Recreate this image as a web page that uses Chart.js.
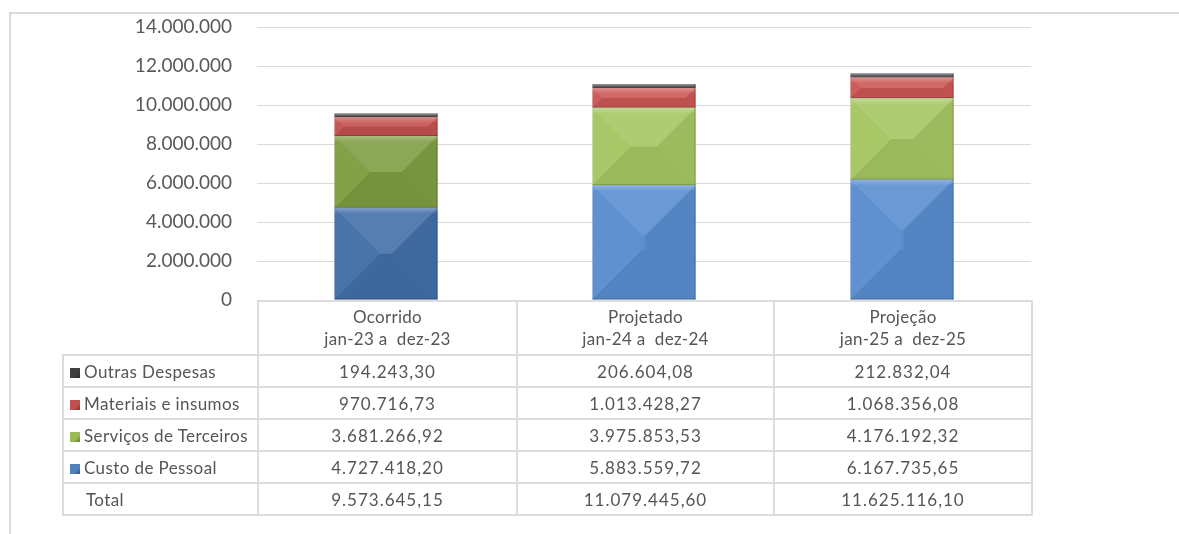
<!DOCTYPE html>
<html><head><meta charset="utf-8">
<script src="https://cdn.jsdelivr.net/npm/chart.js@4/dist/chart.umd.min.js"></script>
<style>
html,body{margin:0;padding:0;background:#fff;width:1179px;height:534px;overflow:hidden;font-family:Lato,"Open Sans",sans-serif;}
#frame{position:absolute;left:9px;top:12px;width:1180px;height:540px;border-left:2px solid #d9d9d9;border-top:2px solid #d9d9d9;}
#c{position:absolute;left:0;top:0;}
#tbl{position:absolute;left:62px;top:300px;border-collapse:collapse;color:#555;font-size:17px;}
#tbl td{border:2px solid #dcdcdc;padding:0;text-align:center;height:30px;white-space:pre;letter-spacing:1px;}
#tbl tr.hd td{height:52px;line-height:22px;letter-spacing:0.3px;}
#tbl td.blank{border:none;}
#tbl td.lab{text-align:left;padding-left:6px;letter-spacing:0.4px;}
.sq{display:inline-block;width:10px;height:10px;margin-right:4px;vertical-align:0px;}
</style></head>
<body>
<div id="frame"></div>
<canvas id="c" width="1179" height="534"></canvas>
<table id="tbl"></table>
<script>
const categories = [["Ocorrido","jan-23 a  dez-23"],["Projetado","jan-24 a  dez-24"],["Projeção","jan-25 a  dez-25"]];
const custoPessoal = [4727418.20, 5883559.72, 6167735.65];
const servicosTerceiros = [3681266.92, 3975853.53, 4176192.32];
const materiaisInsumos = [970716.73, 1013428.27, 1068356.08];
const outrasDespesas = [194243.30, 206604.08, 212832.04];
const totals = [9573645.15, 11079445.60, 11625116.10];
const yTicks = [0, 2000000, 4000000, 6000000, 8000000, 10000000, 12000000, 14000000];

function fmt(v, dec){
  const s = v.toFixed(dec);
  let [ip, dp] = s.split('.');
  ip = ip.replace(/\B(?=(\d{3})+(?!\d))/g, '.');
  return dp ? ip + ',' + dp : ip;
}

const series = [
  {label:'Custo de Pessoal', data:custoPessoal, colors:['#4370a8','#5a8ed0','#5a8ed0'], key:'#4f81bd'},
  {label:'Serviços de Terceiros', data:servicosTerceiros, colors:['#7f9e42','#a6c764','#a6c764'], key:'#9bbb59'},
  {label:'Materiais e insumos', data:materiaisInsumos, colors:['#c4524f','#cc5855','#cc5855'], key:'#c0504d'},
  {label:'Outras Despesas', data:outrasDespesas, colors:['#606060','#606060','#606060'], key:'#404040'}
];

const bevel = {
  id:'bevel',
  afterDatasetsDraw(chart){
    const ctx = chart.ctx;
    chart.data.datasets.forEach((ds, i) => {
      const meta = chart.getDatasetMeta(i);
      meta.data.forEach(bar => {
        const p = bar.getProps(['x','y','base','width'], true);
        const l = p.x - p.width/2, r = p.x + p.width/2;
        const t = Math.min(p.y, p.base), b = Math.max(p.y, p.base);
        const w = r - l, h = b - t;
        const d = Math.min(w/2, h/2, 50);
        const poly = (pts, fill) => {
          ctx.beginPath(); ctx.moveTo(pts[0][0], pts[0][1]);
          for (let k=1;k<pts.length;k++) ctx.lineTo(pts[k][0], pts[k][1]);
          ctx.closePath(); ctx.fillStyle = fill; ctx.fill();
        };
        ctx.save();
        poly([[l,t],[r,t],[r-d,t+d],[l+d,t+d]], 'rgba(255,255,255,0.10)');
        poly([[l,b],[r,b],[r-d,b-d],[l+d,b-d]], 'rgba(0,0,0,0.07)');
        poly([[l,t],[l+d,t+d],[l+d,b-d],[l,b]], 'rgba(255,255,255,0.03)');
        poly([[r,t],[r-d,t+d],[r-d,b-d],[r,b]], 'rgba(0,0,0,0.06)');
        const g = ctx.createLinearGradient(0, t, 0, t + Math.min(6, h/2));
        g.addColorStop(0, 'rgba(255,255,255,0.25)'); g.addColorStop(1, 'rgba(255,255,255,0)');
        ctx.fillStyle = g; ctx.fillRect(l, t, w, Math.min(6, h/2));
        ctx.strokeStyle = 'rgba(0,0,0,0.22)'; ctx.lineWidth = 1;
        ctx.beginPath(); ctx.moveTo(l, b-0.5); ctx.lineTo(r, b-0.5); ctx.stroke();
        ctx.beginPath(); ctx.moveTo(r-0.5, t); ctx.lineTo(r-0.5, b); ctx.stroke();
        ctx.restore();
      });
    });
  }
};

new Chart(document.getElementById('c'), {
  type:'bar',
  data:{
    labels: categories,
    datasets: series.map(s => ({label:s.label, data:s.data, backgroundColor:s.colors, borderWidth:0}))
  },
  options:{
    responsive:false, animation:false, devicePixelRatio:1,
    layout:{padding:{top:27, right:148, bottom:234, left:0}},
    plugins:{legend:{display:false}, tooltip:{enabled:false}},
    datasets:{bar:{categoryPercentage:1, barPercentage:0.4}},
    scales:{
      x:{stacked:true, display:false},
      y:{stacked:true, min:0, max:14000000,
         afterFit(scale){ scale.width = 257; scale.paddingTop = 0; scale.paddingBottom = 0; },
         afterBuildTicks(scale){ scale.ticks = yTicks.map(v => ({value:v})); },
         border:{display:false},
         grid:{color:'#d9d9d9', lineWidth:1, drawTicks:false},
         ticks:{padding:25, color:'#595959', font:{family:'Lato', size:19}, callback:v => fmt(v,0)}
      }
    }
  },
  plugins:[bevel]
});

// data table below the plot
const tbl = document.getElementById('tbl');
const cg = document.createElement('colgroup');
[195,259,257,258].forEach(w => { const c = document.createElement('col'); c.style.width = w+'px'; cg.appendChild(c); });
tbl.appendChild(cg);
const hr = document.createElement('tr'); hr.className = 'hd';
const blank = document.createElement('td'); blank.className = 'blank'; hr.appendChild(blank);
categories.forEach(c => { const td = document.createElement('td'); td.textContent = c.join('\n'); hr.appendChild(td); });
tbl.appendChild(hr);
[...series].reverse().forEach(s => {
  const tr = document.createElement('tr');
  const lab = document.createElement('td'); lab.className = 'lab';
  const sq = document.createElement('span'); sq.className = 'sq';
  sq.style.background = 'linear-gradient(135deg,' + s.key + ' 0%,' + s.key + ' 60%, rgba(0,0,0,0.35) 100%)';
  sq.style.backgroundColor = s.key;
  lab.appendChild(sq); lab.appendChild(document.createTextNode(s.label));
  tr.appendChild(lab);
  s.data.forEach(v => { const td = document.createElement('td'); td.textContent = fmt(v,2); tr.appendChild(td); });
  tbl.appendChild(tr);
});
const trT = document.createElement('tr');
const labT = document.createElement('td'); labT.className = 'lab'; labT.style.paddingLeft = '22px'; labT.textContent = 'Total';
trT.appendChild(labT);
totals.forEach(v => { const td = document.createElement('td'); td.textContent = fmt(v,2); trT.appendChild(td); });
tbl.appendChild(trT);
</script>
</body></html>
